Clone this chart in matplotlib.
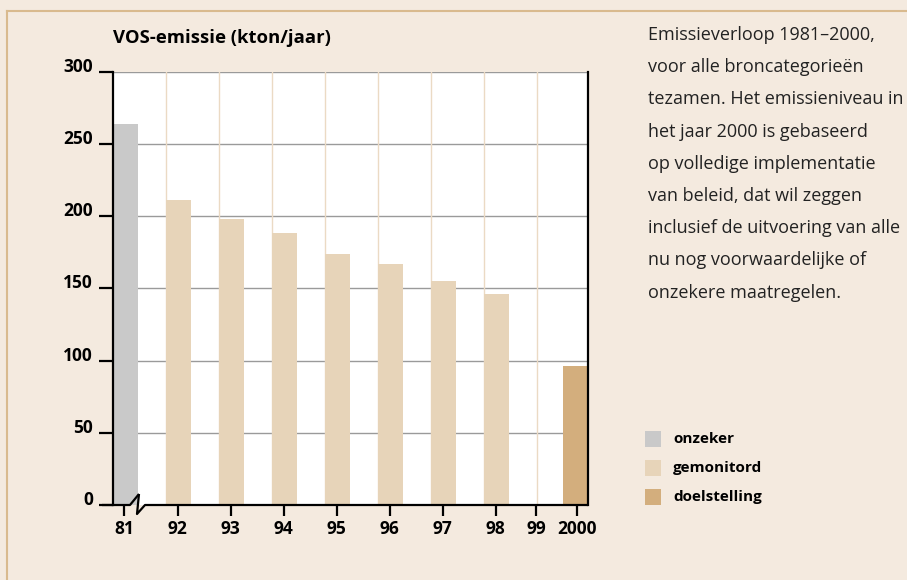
import matplotlib.pyplot as plt
from matplotlib.patches import Rectangle
from matplotlib.lines import Line2D

# Data
years = ['81', '92', '93', '94', '95', '96', '97', '98', '99', '2000']
emissie = [264, 211, 198, 188, 174, 167, 155, 146, None, 96]
soort = ['onzeker', 'gemonitord', 'gemonitord', 'gemonitord', 'gemonitord',
         'gemonitord', 'gemonitord', 'gemonitord', None, 'doelstelling']
yticks = [0, 50, 100, 150, 200, 250, 300]

legend_labels = ['onzeker', 'gemonitord', 'doelstelling']
colors = {'onzeker': '#C9C9C9', 'gemonitord': '#E7D4B9', 'doelstelling': '#D3AE7D'}

toelichting = [
    'Emissieverloop 1981\u20132000,',
    'voor alle broncategorieën',
    'tezamen. Het emissieniveau in',
    'het jaar 2000 is gebaseerd',
    'op volledige implementatie',
    'van beleid, dat wil zeggen',
    'inclusief de uitvoering van alle',
    'nu nog voorwaardelijke of',
    'onzekere maatregelen.',
]

# layout: left edge of each slot, bar width, tick positions
bar_left = [0, 1, 2, 3, 4, 5, 6, 7, 8, 8.49]
bar_w = 0.47
tick_pos = [0.21, 1.22, 2.22, 3.22, 4.22, 5.22, 6.22, 7.22, 7.98, 8.75]
x_max = 8.96

bg = '#F4EADF'
plt.rcParams['font.family'] = ['Open Sans', 'DejaVu Sans']

W, H = 907, 580
fig = plt.figure(figsize=(W / 100, H / 100), dpi=100, facecolor=bg)

# frame lines (top and left)
fig.add_artist(Line2D([7 / W, 1], [1 - 10.5 / H, 1 - 10.5 / H], color='#D9BA8E', lw=1.5))
fig.add_artist(Line2D([7 / W, 7 / W], [0, 1 - 10.5 / H], color='#D9BA8E', lw=1.5))

ax = fig.add_axes([113 / W, 1 - 505 / H, (588 - 113) / W, (505 - 71.5) / H])
ax.set_facecolor('white')
ax.set_xlim(0, x_max)
ax.set_ylim(0, 300)

# grid
for y in yticks[1:]:
    ax.axhline(y, color='#9A9A9A', lw=1, zorder=1)
for k in range(1, 9):
    ax.axvline(k, color='#EBDAC4', lw=1, zorder=1)

# bars
for i, v in enumerate(emissie):
    if v is None:
        continue
    ax.bar(bar_left[i], v, width=bar_w, align='edge', color=colors[soort[i]],
           edgecolor='none', zorder=2)

# spines
ax.spines['top'].set_visible(False)
ax.spines['bottom'].set_visible(False)
for s in ['left', 'right']:
    ax.spines[s].set_color('black')
    ax.spines[s].set_linewidth(1.6)
    ax.spines[s].set_zorder(4)

# bottom axis with break mark
px_y = 300 / (505 - 71.5)
px_x = x_max / (588 - 113)
brk_x = [-11 * px_x, 17 * px_x, 26 * px_x, 24 * px_x, 32 * px_x, x_max]
brk_y = [0, 0, 11 * px_y, -9 * px_y, 0, 0]
ax.plot(brk_x[:3], brk_y[:3], color='black', lw=1.6, clip_on=False, zorder=5,
        solid_capstyle='butt')
ax.plot(brk_x[2:], brk_y[2:], color='black', lw=1.6, clip_on=False, zorder=5,
        solid_capstyle='butt')

# y ticks, labels sit a little above the tick marks
ax.set_yticks(yticks)
ax.set_yticklabels([])
for t in yticks:
    ax.annotate(str(t), xy=(0, t), xycoords=('axes fraction', 'data'),
                xytext=(-20, 5), textcoords='offset pixels', ha='right',
                va='center', fontsize=12.5, fontweight='bold')
ax.set_xticks(tick_pos)
ax.set_xticklabels(years, fontweight='bold', fontsize=12.5)
ax.tick_params(axis='y', direction='out', length=10, width=1.6, colors='black')
ax.tick_params(axis='x', direction='out', length=8, width=1.6, pad=3, colors='black')
ax.tick_params(axis='y', which='both', right=False)

fig.text(113 / W, 1 - 38 / H, 'VOS-emissie (kton/jaar)', fontsize=13.3,
         fontweight='bold', ha='left', va='center')

# explanatory text
for j, line in enumerate(toelichting):
    fig.text(648 / W, 1 - (35 + 32.2 * j) / H, line, fontsize=13,
             ha='left', va='center', color='#222222')

# legend
for j, lab in enumerate(legend_labels):
    yc = 439 + 29 * j
    fig.add_artist(Rectangle((645 / W, 1 - (yc + 8) / H), 16 / W, 16 / H,
                             facecolor=colors[lab], edgecolor='none'))
    fig.text(673 / W, 1 - yc / H, lab, fontsize=11, fontweight='bold',
             ha='left', va='center')

fig.savefig('out.png', dpi=100, facecolor=bg)
